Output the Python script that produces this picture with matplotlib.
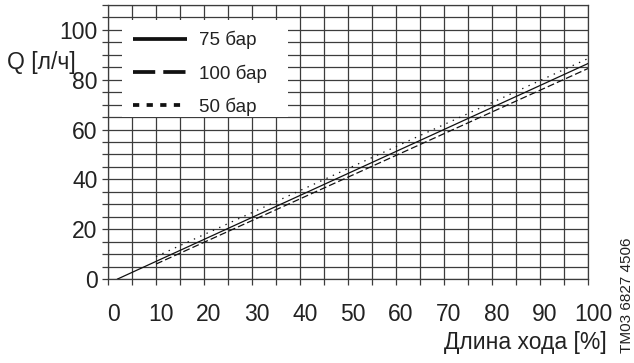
import matplotlib
matplotlib.use("Agg")
import matplotlib.pyplot as plt
import matplotlib.transforms as mtransforms
from matplotlib.patches import Rectangle
import numpy as np

plt.rcParams["font.family"] = ["Liberation Sans", "DejaVu Sans"]
plt.rcParams["lines.scale_dashes"] = False

# Stroke length vs. flow rate at different back-pressures
stroke_75 = [2, 100]
flow_75 = [0, 86.5]
stroke_100 = [10, 100]
flow_100 = [6, 84.5]
stroke_50 = [10, 100]
flow_50 = [9, 88.5]

labels = ["75 бар", "100 бар", "50 бар"]
x_ticks = list(range(0, 101, 10))
y_ticks = list(range(0, 101, 20))

W, H = 634, 363
fig = plt.figure(figsize=(W / 100, H / 100), dpi=100)
ax = fig.add_axes([108 / W, 1 - 279 / H, 480 / W, 274 / H])

ax.set_xlim(0, 100)
ax.set_ylim(0, 110)

grid_col = "#3c3c3c"
txt_col = "#222222"
fs = 16.5
ax.set_xticks(np.arange(0, 101, 5), minor=True)
ax.set_yticks(np.arange(0, 111, 5), minor=True)
ax.set_xticks(x_ticks)
ax.set_yticks(y_ticks)
ax.grid(True, which="both", color=grid_col, linewidth=0.9)
ax.set_axisbelow(True)
ax.tick_params(which="both", direction="out", length=4.5, width=0.9,
               color=grid_col, labelsize=fs, labelcolor=txt_col)
ax.tick_params(axis="x", which="major", pad=13)
ax.tick_params(axis="y", which="major", pad=3)
for s in ax.spines.values():
    s.set_color(grid_col)
    s.set_linewidth(0.9)

# x tick labels sit slightly right of their ticks
shift = mtransforms.ScaledTranslation(5 / 100, 0, fig.dpi_scale_trans)
for lab in ax.get_xticklabels():
    lab.set_transform(lab.get_transform() + shift)

# White panel behind the legend
ax.add_patch(Rectangle((2.9, 65), 34.6, 39, facecolor="white",
                       edgecolor="none", zorder=1.5))

lw = 0.9
l1, = ax.plot(stroke_75, flow_75, color="#111111", lw=lw, ls="-", zorder=3)
l2, = ax.plot(stroke_100, flow_100, color="#111111", lw=lw,
              ls=(0, (5, 2.2)), zorder=3)
l3, = ax.plot(stroke_50, flow_50, color="#111111", lw=lw,
              ls=(0, (1, 4)), zorder=3)

leg = ax.legend([l1, l2, l3], labels, loc="upper left",
                bbox_to_anchor=(133 / W, 1 - 31 / H),
                bbox_transform=fig.transFigure, frameon=False,
                fontsize=13.5, handlelength=2.88, handletextpad=0.64,
                labelspacing=0.8, borderpad=0, borderaxespad=0)
leg.set_zorder(4)
handle_styles = ["-", (0, (16, 5.8)), (0, (4.5, 5.3))]
for line, st in zip(leg.get_lines(), handle_styles):
    line.set_linewidth(2.7)
    line.set_linestyle(st)
    line.set_solid_capstyle("butt")
    line.set_dash_capstyle("butt")
for t in leg.get_texts():
    t.set_color(txt_col)

fig.text(7 / W, 1 - 62 / H, "Q [л/ч]", ha="left", va="center",
         fontsize=fs, color=txt_col)
fig.text(607 / W, 1 - 343 / H, "Длина хода [%]", ha="right", va="center",
         fontsize=fs, color=txt_col)
fig.text(627 / W, 1 - 295 / H, "TM03 6827 4506", ha="center", va="center",
         rotation=90, fontsize=11, color=txt_col)

fig.savefig("out.png", dpi=100)
